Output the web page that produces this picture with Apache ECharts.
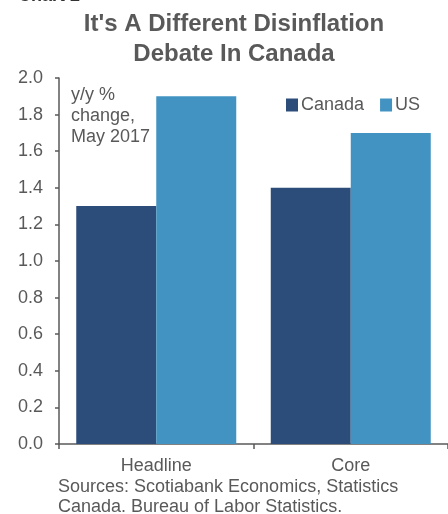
<!DOCTYPE html>
<html><head><meta charset="utf-8">
<script src="https://cdn.jsdelivr.net/npm/echarts@6/dist/echarts.min.js"></script>
<style>html,body{margin:0;padding:0;background:#fff}#c{width:448px;height:514px}</style>
</head><body><div id="c"></div>
<script>
const categories = ['Headline', 'Core'];
const canada = [1.3, 1.4];
const us = [1.9, 1.7];
const seriesNames = ['Canada', 'US'];
const colors = ['#2C4C7A', '#4393C2'];
const txt = '#595959';
const font = '"Liberation Sans", Arial, sans-serif';
const chart = echarts.init(document.getElementById('c'));
chart.setOption({
  animation: false,
  textStyle: { fontFamily: font },
  title: [
    { text: "It's A Different Disinflation\nDebate In Canada", left: 229, textAlign: 'center', top: 4,
      textStyle: { fontSize: 24, fontWeight: 'bold', color: txt, lineHeight: 30, fontFamily: font } }
  ],
  legend: {
    data: seriesNames, left: 281, top: 91, itemWidth: 12, itemHeight: 13, itemGap: 16,
    icon: 'rect', textStyle: { fontSize: 18, color: txt, padding: [0, 0, 0, -2], fontFamily: font }
  },
  graphic: [
    { type: 'text', left: 18, top: -13, style: { text: 'Chart 2', fontSize: 18, fontWeight: 'bold', fill: '#333', fontFamily: font } },
    { type: 'text', left: 71, top: 85, style: { text: 'y/y %\nchange,\nMay 2017', fontSize: 18, lineHeight: 21, fill: txt, fontFamily: font } },
    { type: 'text', left: 58, top: 477, style: { text: 'Sources: Scotiabank Economics, Statistics\nCanada. Bureau of Labor Statistics.', fontSize: 18, lineHeight: 20, fill: txt, fontFamily: font } }
  ],
  grid: { left: 59, top: 78, width: 392, height: 366, containLabel: false },
  xAxis: {
    type: 'category', data: categories,
    axisLine: { lineStyle: { color: txt, width: 1.5 } },
    axisTick: { show: true, length: 5, lineStyle: { color: txt, width: 1.5 } },
    axisLabel: { fontSize: 18, color: txt, margin: 13, fontFamily: font }
  },
  yAxis: {
    type: 'value', min: 0, max: 2, interval: 0.2,
    axisLine: { show: true, lineStyle: { color: txt, width: 1.5 } },
    axisTick: { show: true, length: 4, lineStyle: { color: txt, width: 1.5 } },
    splitLine: { show: false },
    axisLabel: { fontSize: 18, color: txt, margin: 16, formatter: v => v.toFixed(1), fontFamily: font }
  },
  series: [
    { name: seriesNames[0], type: 'bar', data: canada, barWidth: 80, barGap: '0%', itemStyle: { color: colors[0] } },
    { name: seriesNames[1], type: 'bar', data: us, barWidth: 80, barGap: '0%', itemStyle: { color: colors[1] } }
  ]
});
</script></body></html>
